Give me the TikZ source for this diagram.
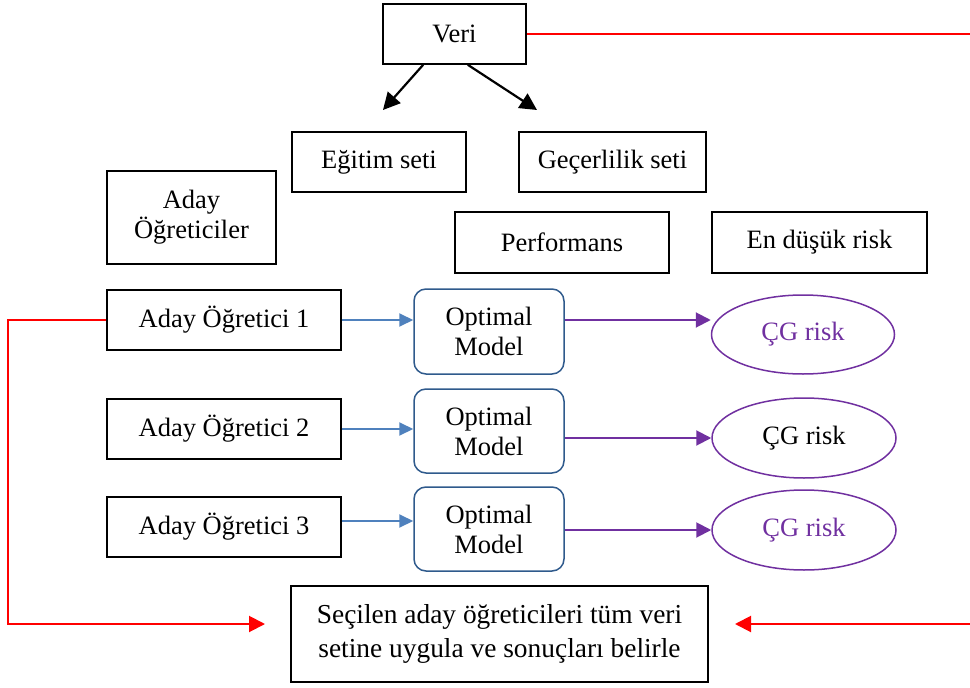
\documentclass[tikz,border=0pt]{standalone}
\usepackage{fontspec}
\setmainfont{Liberation Serif}
\usetikzlibrary{shapes.geometric,arrows.meta,calc}
\definecolor{arrowblue}{HTML}{4F81BD}
\definecolor{modelblue}{HTML}{2F5A8C}
\definecolor{riskpurple}{HTML}{7030A0}
\begin{document}
\begin{tikzpicture}[x=1pt,y=-1pt,
  every node/.style={font=\fontsize{26.5}{30}\selectfont, align=center, inner sep=0pt},
  plainbox/.style={draw=black, line width=1.6pt},
  modelbox/.style={draw=modelblue, line width=1.5pt, rounded corners=12pt,
    minimum width=150pt, minimum height=84pt},
  riskoval/.style={ellipse, draw=riskpurple, line width=1.5pt,
    minimum width=183pt, minimum height=79pt},
  splitarrow/.style={line width=2.2pt, -{Triangle[length=17pt,width=17pt]}},
  feedarrow/.style={arrowblue, line width=2pt, -{Triangle[length=14pt,width=13pt]}},
  riskarrow/.style={riskpurple, line width=2pt, -{Triangle[length=15pt,width=15pt]}},
  redline/.style={red, line width=2pt},
  redarrow/.style={red, line width=2pt, -{Triangle[length=16pt,width=16pt]}}]
\useasboundingbox (0,0) rectangle (970,688);

% data and its split
\node[plainbox, minimum width=143pt, minimum height=60pt] (veri) at (454.5,34) {Veri};
\node[plainbox, minimum width=174pt, minimum height=60pt] (egitim) at (379,162) {Eğitim seti};
\node[plainbox, minimum width=187pt, minimum height=60pt] (gecer) at (612.5,162) {Geçerlilik seti};

% column headings
\node[plainbox, minimum width=169pt, minimum height=93pt] (adaylar) at (191.5,217.5) {Aday\\Öğreticiler};
\node[plainbox, minimum width=214pt, minimum height=61pt] (perf) at (562,242.5) {Performans};
\node[plainbox, minimum width=215pt, minimum height=61pt] (endusuk) at (819.5,242.5) {En düşük risk};

% candidate learners
\node[plainbox, minimum width=234pt, minimum height=60pt] (a1) at (224,320) {Aday Öğretici 1};
\node[plainbox, minimum width=234pt, minimum height=60pt] (a2) at (224,429) {Aday Öğretici 2};
\node[plainbox, minimum width=234pt, minimum height=60pt] (a3) at (224,527) {Aday Öğretici 3};

% optimal models
\node[modelbox, minimum height=85pt] (m1) at (489,331.5) {Optimal\\Model};
\node[modelbox] (m2) at (489,431) {Optimal\\Model};
\node[modelbox] (m3) at (489,529) {Optimal\\Model};

% cross-validated risks
\node[riskoval, text=riskpurple] (e1) at (803,334.5) {ÇG risk};
\node[riskoval, minimum width=184pt, minimum height=80pt] (e2) at (804,438) {ÇG risk};
\node[riskoval, minimum width=184pt, minimum height=80pt, text=riskpurple] (e3) at (804,530) {ÇG risk};

% final step
\node[plainbox, minimum width=417pt, minimum height=96pt,
  font=\fontsize{27.4}{34}\selectfont] (son) at (499.5,634)
  {Seçilen aday öğreticileri tüm veri\\setine uygula ve sonuçları belirle};

% split arrows
\coordinate (egtip) at (383,110);
\coordinate (getip) at (537,110);
\draw[splitarrow] ($(veri.south west)+(41,0)$) -- (egtip);
\draw[splitarrow] ($(veri.south east)+(-59,0)$) -- (getip);

% learner -> model -> risk
\draw[feedarrow] (a1.east) -- (a1.east -| m1.west);
\draw[feedarrow] (a2.east) -- (a2.east -| m2.west);
\draw[feedarrow] ($(a3.east)+(0,-6)$) -- ($(a3.east -| m3.west)+(0,-6)$);
\draw[riskarrow] (m1.east |- a1.east) -- (a1.east -| e1.west);
\draw[riskarrow] (m2.east |- e2.west) -- (e2.west);
\draw[riskarrow] (m3.east |- e3.west) -- (e3.west);

% red feedback paths
\coordinate (rtop) at (970,34);
\coordinate (lcorner) at (8,624);
\coordinate (ltip) at (265,624);
\coordinate (rstart) at (970,624);
\coordinate (rtip) at (735,624);
\draw[redline] (veri.east) -- (rtop);
\draw[redarrow] (a1.west) -| (lcorner) -- (ltip);
\draw[redarrow] (rstart) -- (rtip);
\end{tikzpicture}
\end{document}
